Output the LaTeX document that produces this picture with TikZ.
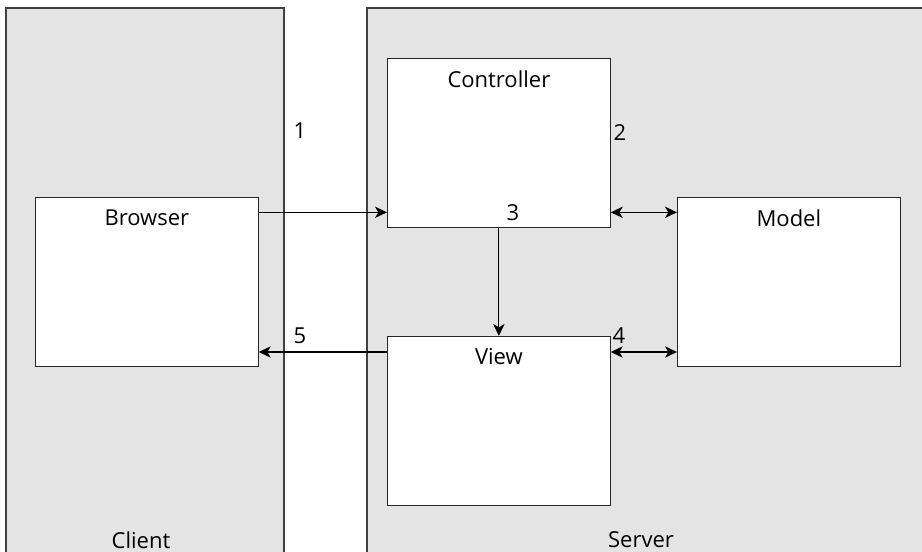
\documentclass[tikz,border=0pt]{standalone}
\usepackage{fontspec}
\setmainfont{Open Sans}
\usetikzlibrary{positioning}
\usetikzlibrary{arrows,arrows.meta}
\definecolor{panelgray}{RGB}{228,228,228}
\tikzset{x=0.75pt,y=-0.75pt,
    every node/.style={font=\fontsize{16.5}{19}\selectfont},
    panel/.style={
        fill=panelgray,
        draw=black!75,
        line width=0.9pt},
    part/.style={
        draw=black!85,
        fill=white,
        line width=0.8pt,
        minimum width=167pt,
        minimum height=127pt,
        inner sep=0pt},
    title/.style={
        anchor=center,
        inner sep=0pt,
        yshift=-15.75pt},
    step label/.style={
        inner sep=0pt},
    tip/.tip={Stealth[length=9pt,width=8.5pt,inset=2.5pt]},
    flow/.style={
        draw,
        -tip,
        line width=0.9pt}}

\begin{document}
\begin{tikzpicture}
        \useasboundingbox (0,0) rectangle (922,552);
        \clip (0,0) rectangle (922,552);

        % tiers
        \fill[panelgray] (6,8) rectangle (284,560);
        \draw[panel,fill=none] (6,560) |- (284,8) -- (284,560);
        \fill[panelgray] (367,8) rectangle (930,560);
        \draw[panel,fill=none] (367,560) |- (930,8);
        \node (client) at (141,540) {Client};
        \node (server) at (641,540) {Server};

        % components
        \node[part,anchor=north west] (browser) at (35,197) {};
        \node[part,anchor=north west] (controller) at (387,58) {};
        \node[part,anchor=north west] (model) at (677,197) {};
        \node[part,anchor=north west] (view) at (387,336) {};

        \node[title] at (browser.north) {Browser};
        \node[title] at (controller.north) {Controller};
        \node[title] at (model.north) {Model};
        \node[title] at (view.north) {View};

        % requests and responses
        \coordinate (b1) at ([yshift=-11.5pt]browser.north east);
        \coordinate (c1) at (controller.west |- b1);
        \coordinate (c2) at (controller.east |- b1);
        \coordinate (m2) at (model.north west |- b1);
        \coordinate (v4) at ([yshift=-12pt]view.north east);
        \coordinate (m4) at (model.west |- v4);
        \coordinate (v5) at (view.west |- v4);
        \coordinate (b5) at (browser.east |- v4);

        \draw[flow] (b1) -- (c1);
        \draw[flow,tip-tip] (c2) -- (m2);
        \draw[flow] (controller.south) -- (view.north);
        \draw[flow,tip-tip] (v4) -- (m4);
        \draw[flow] (v5) -- (b5);

        \node[step label] (n1) at (300,131) {1};
        \node[step label] (n2) at (620,133) {2};
        \node[step label] (n3) at (513,213) {3};
        \node[step label] (n4) at (619,336) {4};
        \node[step label] (n5) at (300,336) {5};
    \end{tikzpicture}
\end{document}
